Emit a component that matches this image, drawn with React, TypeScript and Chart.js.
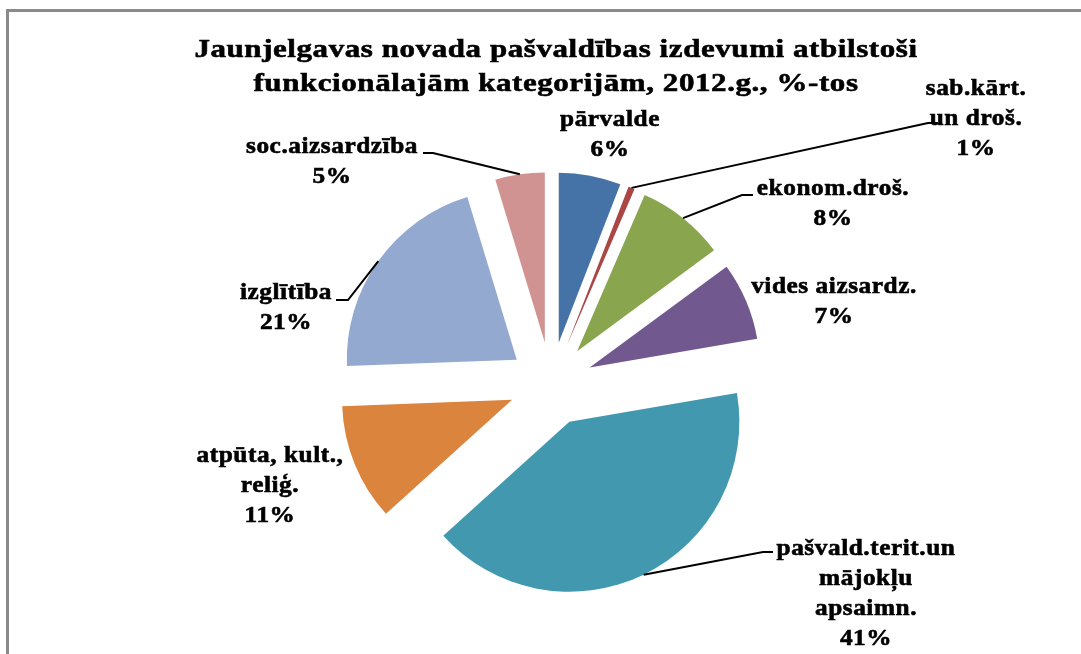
import React, { useEffect, useRef } from 'react';
import { Chart, registerables } from 'chart.js';

Chart.register(...registerables);

// ---- data ----
const titleLines = [
  'Jaunjelgavas novada pašvaldības izdevumi atbilstoši',
  'funkcionālajām kategorijām, 2012.g., %-tos',
];
const categories = [
  'pārvalde',
  'sab.kārt. un droš.',
  'ekonom.droš.',
  'vides aizsardz.',
  'pašvald.terit.un mājokļu apsaimn.',
  'atpūta, kult., reliģ.',
  'izglītība',
  'soc.aizsardzība',
];
const categoryLines = [
  ['pārvalde'],
  ['sab.kārt.', 'un droš.'],
  ['ekonom.droš.'],
  ['vides aizsardz.'],
  ['pašvald.terit.un', 'mājokļu', 'apsaimn.'],
  ['atpūta, kult.,', 'reliģ.'],
  ['izglītība'],
  ['soc.aizsardzība'],
];
const shares = [5.9, 0.6, 8.4, 7.4, 41.0, 11.1, 20.9, 4.7];
const colors = ['#4572A7', '#AA4643', '#89A54E', '#71588F', '#4198AF', '#DB843D', '#93A9CF', '#D19392'];

// ---- layout / style ----
const W = 1081;
const H = 654;
const PIE_RADIUS = 170;
const EXPLODE = 42;
const LABEL_FONT = 'bold 23px "Liberation Serif", "Times New Roman", serif';
const LABEL_SPACING = '0.5px';
const LABEL_SCALE_X = 1.1;
const LINE_H = 30;
const TITLE_FONT = 'bold 26px "Liberation Serif", "Times New Roman", serif';
const TITLE_SPACING = '0.5px';
const TITLE_SCALE_X = 1.19;
const TITLE_X = 556;
const TITLE_BASELINES = [57, 91];
const TEXT_STROKE = 0.6;
// label placement: centre x, first baseline, optional leader (text end, elbow)
const labelPlacement: { x: number; y: number; leader?: [number, number][] }[] = [
  { x: 610, y: 126 },
  { x: 976, y: 95, leader: [[938, 123], [928, 123]] },
  { x: 833, y: 195, leader: [[753, 195], [742, 195]] },
  { x: 834, y: 293 },
  { x: 866, y: 555, leader: [[773, 552], [763, 552]] },
  { x: 270, y: 462 },
  { x: 286, y: 299, leader: [[336, 300], [348, 300]] },
  { x: 332, y: 153, leader: [[423, 153], [433, 153]] },
];

function drawScaledText(ctx: CanvasRenderingContext2D, text: string, x: number, y: number, sx: number) {
  ctx.save();
  ctx.translate(x, y);
  ctx.scale(sx, 1);
  ctx.fillText(text, 0, 0);
  ctx.strokeText(text, 0, 0);
  ctx.restore();
}

const explodePlugin = {
  id: 'explodeSlices',
  afterDatasetUpdate(chart: any, args: any) {
    const meta = chart.getDatasetMeta(args.index);
    meta.data.forEach((arc: any) => {
      const mid = (arc.startAngle + arc.endAngle) / 2;
      arc.x += Math.cos(mid) * EXPLODE;
      arc.y += Math.sin(mid) * EXPLODE;
    });
  },
};

const decorPlugin = {
  id: 'decor',
  beforeDraw(chart: any) {
    const ctx = chart.ctx;
    ctx.save();
    ctx.fillStyle = '#ffffff';
    ctx.fillRect(0, 0, W, H);
    ctx.fillStyle = '#8a8a8a';
    ctx.fillRect(6, 9, W - 6, 3);
    ctx.fillRect(6, 9, 3, H - 9);
    ctx.restore();
  },
  afterDraw(chart: any) {
    const ctx = chart.ctx;
    const meta = chart.getDatasetMeta(0);
    ctx.save();
    ctx.fillStyle = '#000';
    ctx.strokeStyle = '#000';
    ctx.textAlign = 'center';
    ctx.textBaseline = 'alphabetic';
    ctx.lineWidth = TEXT_STROKE;
    // title
    ctx.font = TITLE_FONT;
    (ctx as any).letterSpacing = TITLE_SPACING;
    titleLines.forEach((t, i) => drawScaledText(ctx, t, TITLE_X, TITLE_BASELINES[i], TITLE_SCALE_X));

    // leader lines
    ctx.lineWidth = 2;
    meta.data.forEach((arc: any, i: number) => {
      const p = labelPlacement[i];
      if (!p.leader) return;
      const mid = (arc.startAngle + arc.endAngle) / 2;
      const ax = arc.x + Math.cos(mid) * arc.outerRadius;
      const ay = arc.y + Math.sin(mid) * arc.outerRadius;
      ctx.beginPath();
      ctx.moveTo(p.leader[0][0], p.leader[0][1]);
      ctx.lineTo(p.leader[1][0], p.leader[1][1]);
      ctx.lineTo(ax, ay);
      ctx.stroke();
    });

    // labels
    ctx.lineWidth = TEXT_STROKE;
    ctx.font = LABEL_FONT;
    (ctx as any).letterSpacing = LABEL_SPACING;
    categoryLines.forEach((lines, i) => {
      const p = labelPlacement[i];
      const all = [...lines, Math.round(shares[i]) + '%'];
      all.forEach((t, j) => {
        drawScaledText(ctx, t, p.x, p.y + j * LINE_H, LABEL_SCALE_X);
      });
    });
    ctx.restore();
  },
};

export default function App() {
  const ref = useRef<HTMLCanvasElement>(null);
  useEffect(() => {
    const chart = new Chart(ref.current as HTMLCanvasElement, {
      type: 'pie',
      data: {
        labels: categories,
        datasets: [
          {
            data: shares,
            backgroundColor: colors,
            borderWidth: 0,
            radius: PIE_RADIUS,
          } as any,
        ],
      },
      options: {
        responsive: false,
        animation: false,
        events: [],
        layout: { padding: { left: 21, right: 0, top: 114, bottom: 0 } },
        plugins: {
          legend: { display: false },
          tooltip: { enabled: false },
          title: { display: false },
        },
      },
      plugins: [explodePlugin, decorPlugin],
    });
    return () => chart.destroy();
  }, []);
  return (
    <div style={{ position: 'fixed', left: 0, top: 0, width: W, height: H, background: '#fff' }}>
      <canvas ref={ref} width={W} height={H} style={{ display: 'block' }} />
    </div>
  );
}
